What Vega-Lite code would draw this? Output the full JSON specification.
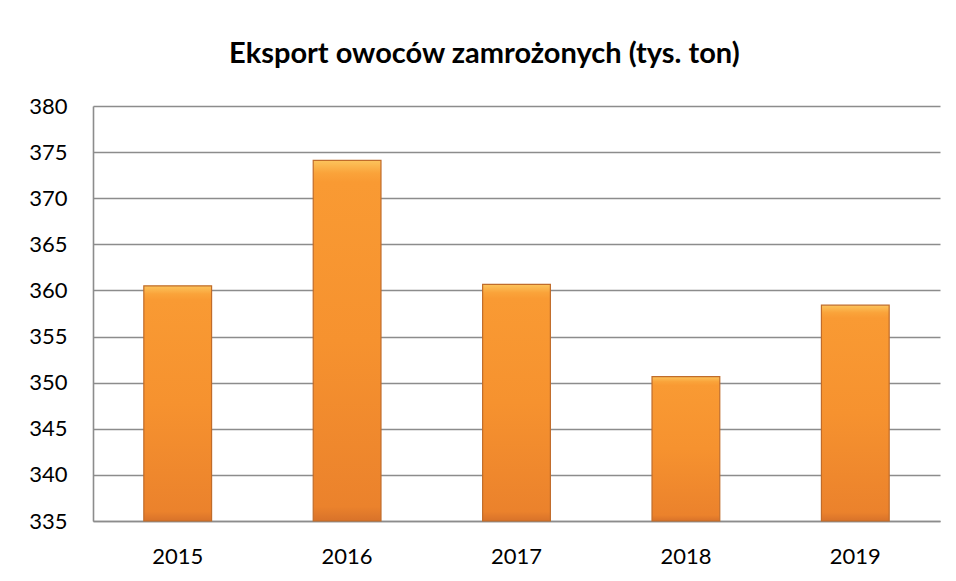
{
  "$schema": "https://vega.github.io/schema/vega-lite/v6.json",
  "width": 847,
  "height": 415,
  "autosize": {"type": "none"},
  "padding": {"left": 93, "top": 106, "right": 16, "bottom": 60},
  "background": "white",
  "title": {
    "text": "Eksport owoców zamrożonych (tys. ton)",
    "anchor": "middle",
    "frame": "bounds",
    "font": "Lato",
    "fontSize": 29,
    "fontWeight": "bold",
    "color": "#000000",
    "baseline": "alphabetic",
    "offset": 3
  },
  "data": {
    "values": [
      {"rok": "2015", "eksport": 360.5},
      {"rok": "2016", "eksport": 374.1},
      {"rok": "2017", "eksport": 360.65},
      {"rok": "2018", "eksport": 350.65},
      {"rok": "2019", "eksport": 358.4}
    ]
  },
  "mark": {
    "type": "bar",
    "fill": {
      "gradient": "linear",
      "x1": 0, "y1": 0, "x2": 0, "y2": 1,
      "stops": [
        {"offset": 0, "color": "#FCC45C"},
        {"offset": 0.035, "color": "#FAA33A"},
        {"offset": 0.06, "color": "#F99A33"},
        {"offset": 0.5, "color": "#F6922F"},
        {"offset": 0.96, "color": "#EB822C"},
        {"offset": 1, "color": "#D8722A"}
      ]
    },
    "stroke": "#C06C2A",
    "strokeWidth": 1.2
  },
  "encoding": {
    "x": {
      "field": "rok",
      "type": "nominal",
      "scale": {"paddingInner": 0.6, "paddingOuter": 0.3},
      "axis": {
        "title": null,
        "labelAngle": 0,
        "labelFont": "Lato",
        "labelFontSize": 22,
        "labelColor": "#000000",
        "labelPadding": 25,
        "ticks": false,
        "domainColor": "#8C8C8C",
        "domainWidth": 1.6
      }
    },
    "y": {
      "field": "eksport",
      "type": "quantitative",
      "scale": {"domain": [335, 380], "zero": false, "nice": false},
      "axis": {
        "title": null,
        "values": [335, 340, 345, 350, 355, 360, 365, 370, 375, 380],
        "labelFont": "Lato",
        "labelFontSize": 22,
        "labelColor": "#000000",
        "labelPadding": 26,
        "ticks": false,
        "grid": true,
        "gridColor": "#8C8C8C",
        "gridWidth": 1.6,
        "domainColor": "#8C8C8C",
        "domainWidth": 1.6
      }
    },
    "y2": {"datum": 335}
  },
  "config": {
    "view": {"stroke": null}
  }
}
